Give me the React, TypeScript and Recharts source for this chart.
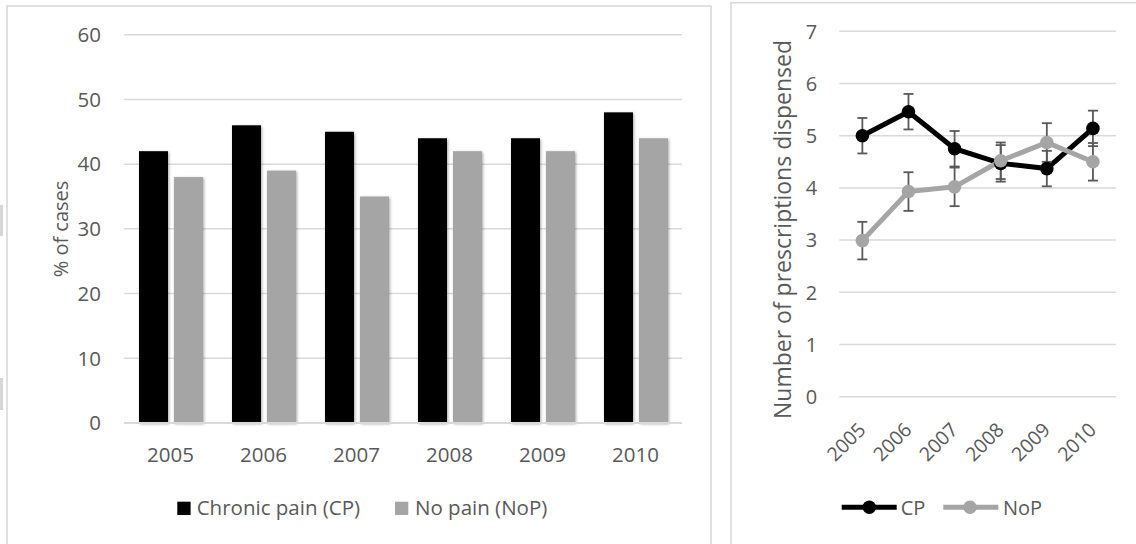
import React from 'react';
import { BarChart, Bar, XAxis, YAxis, CartesianGrid, ComposedChart, Line, ErrorBar } from 'recharts';

const years = ['2005', '2006', '2007', '2008', '2009', '2010'];
const cpPct = [42, 46, 45, 44, 44, 48];
const nopPct = [38, 39, 35, 42, 42, 44];
const pctTicks = [0, 10, 20, 30, 40, 50, 60];

const cpRx = [5.0, 5.46, 4.75, 4.47, 4.37, 5.14];
const cpErr = [0.34, 0.34, 0.34, 0.35, 0.34, 0.34];
const nopRx = [2.99, 3.93, 4.02, 4.52, 4.87, 4.5];
const nopErr = [0.36, 0.37, 0.37, 0.35, 0.37, 0.36];
const rxTicks = [0, 1, 2, 3, 4, 5, 6, 7];

const barNames = ['Chronic pain (CP)', 'No pain (NoP)'];
const lineNames = ['CP', 'NoP'];
const barTitle = '% of cases';
const lineTitle = 'Number of prescriptions dispensed';

const barData = years.map((y, i) => ({ year: y, cp: cpPct[i], nop: nopPct[i] }));
const lineData = years.map((y, i) => ({
  year: y,
  cp: cpRx[i],
  cpErr: cpErr[i],
  nop: nopRx[i],
  nopErr: nopErr[i],
}));

const FONT = '"Open Sans", sans-serif';
const TXT = '#595959';
const GRID = '#d9d9d9';
const BLACK = '#000000';
const GREY = '#a5a5a5';

const BarShape = (p: any) => (
  <rect x={p.x} y={p.y} width={p.width} height={p.height} fill={p.fill} filter="url(#barShadow)" />
);

export default function App() {
  return (
    <div style={{ position: 'absolute', left: 0, top: 0, width: 1136, height: 544, background: '#fff', overflow: 'hidden' }}>
      <div style={{ position: 'absolute', left: 0, top: 0 }}>
        <BarChart
          width={720}
          height={544}
          data={barData}
          margin={{ top: 34.7, right: 38, bottom: 61, left: 24 }}
          barSize={29}
          barGap={6}
        >
          <defs>
            <filter id="barShadow" x="-30%" y="-10%" width="160%" height="120%">
              <feGaussianBlur in="SourceAlpha" stdDeviation="1.6" />
              <feOffset dx="0.5" dy="0.5" result="blur" />
              <feComponentTransfer>
                <feFuncA type="linear" slope="0.35" />
              </feComponentTransfer>
              <feMerge>
                <feMergeNode />
                <feMergeNode in="SourceGraphic" />
              </feMerge>
            </filter>
          </defs>
          <CartesianGrid horizontal vertical={false} stroke={GRID} strokeWidth={1.5} />
          <YAxis
            width={100}
            domain={[0, 60]}
            ticks={pctTicks}
            axisLine={false}
            tickLine={false}
            interval={0}
            tick={(p: any) => (
              <text x={101} y={p.y + 7.3} textAnchor="end" fontSize={20.5} fill={TXT} fontFamily={FONT}>
                {p.payload.value}
              </text>
            )}
          />
          <XAxis
            dataKey="year"
            height={60}
            axisLine={{ stroke: GRID, strokeWidth: 1.8 }}
            tickLine={false}
            interval={0}
            tick={(p: any) => (
              <text x={p.x} y={462} textAnchor="middle" fontSize={20.5} fill={TXT} fontFamily={FONT}>
                {p.payload.value}
              </text>
            )}
          />
          <Bar dataKey="cp" name={barNames[0]} fill={BLACK} shape={BarShape} isAnimationActive={false} />
          <Bar dataKey="nop" name={barNames[1]} fill={GREY} shape={BarShape} isAnimationActive={false} />
        </BarChart>
      </div>

      <div style={{ position: 'absolute', left: 731, top: 0 }}>
        <ComposedChart
          width={405}
          height={544}
          data={lineData}
          margin={{ top: 31.3, right: 20, bottom: 87.3, left: 8.3 }}
        >
          <CartesianGrid horizontal vertical={false} stroke={GRID} strokeWidth={1.5} />
          <YAxis
            width={100}
            domain={[0, 7]}
            ticks={rxTicks}
            axisLine={false}
            tickLine={false}
            interval={0}
            tick={(p: any) => (
              <text x={86.3} y={p.y + 7.2} textAnchor="end" fontSize={20} fill={TXT} fontFamily={FONT}>
                {p.payload.value}
              </text>
            )}
          />
          <XAxis
            dataKey="year"
            scale="band"
            height={60}
            axisLine={false}
            tickLine={false}
            interval={0}
            tick={(p: any) => (
              <text
                x={p.x + 4.5}
                y={431}
                textAnchor="end"
                fontSize={19.5}
                fill={TXT}
                fontFamily={FONT}
                transform={`rotate(-45, ${p.x + 4.5}, 431)`}
              >
                {p.payload.value}
              </text>
            )}
          />
          <Line
            dataKey="cp"
            name={lineNames[0]}
            stroke={BLACK}
            strokeWidth={5}
            dot={{ r: 6.8, fill: BLACK, stroke: BLACK, strokeWidth: 0 }}
            activeDot={false}
            isAnimationActive={false}
          >
            <ErrorBar dataKey="cpErr" direction="y" width={5} stroke={TXT} strokeWidth={1.8} />
          </Line>
          <Line
            dataKey="nop"
            name={lineNames[1]}
            stroke={GREY}
            strokeWidth={5}
            dot={{ r: 6.8, fill: GREY, stroke: GREY, strokeWidth: 0 }}
            activeDot={false}
            isAnimationActive={false}
          >
            <ErrorBar dataKey="nopErr" direction="y" width={5} stroke={TXT} strokeWidth={1.8} />
          </Line>
        </ComposedChart>
      </div>

      <svg
        width={1136}
        height={544}
        style={{ position: 'absolute', left: 0, top: 0, pointerEvents: 'none' }}
      >
        <rect x={0} y={205} width={3} height={31} fill="#d6d6d6" />
        <rect x={0} y={378} width={3} height={32} fill="#d6d6d6" />
        <rect x={7} y={6} width={704} height={620} fill="none" stroke={GRID} strokeWidth={1.6} />
        <rect x={731} y={2.7} width={500} height={620} fill="none" stroke={GRID} strokeWidth={1.6} />

        <text
          transform="translate(67.5, 229) rotate(-90)"
          textAnchor="middle"
          fontSize={20}
          fill={TXT}
          fontFamily={FONT}
        >
          {barTitle}
        </text>
        <text
          transform="translate(791, 229.5) rotate(-90)"
          textAnchor="middle"
          fontSize={23}
          fill={TXT}
          fontFamily={FONT}
        >
          {lineTitle}
        </text>

        <rect x={177.3} y={501.7} width={13.3} height={13.3} fill={BLACK} />
        <text x={196.7} y={515} fontSize={20.5} fill={TXT} fontFamily={FONT}>
          {barNames[0]}
        </text>
        <rect x={395} y={501.7} width={13.3} height={13.3} fill={GREY} />
        <text x={415} y={515} fontSize={20.5} fill={TXT} fontFamily={FONT}>
          {barNames[1]}
        </text>

        <line x1={841.7} y1={507.3} x2={896.7} y2={507.3} stroke={BLACK} strokeWidth={5} />
        <circle cx={869.3} cy={507.3} r={6.8} fill={BLACK} />
        <text x={900.7} y={515} fontSize={20} fill={TXT} fontFamily={FONT}>
          {lineNames[0]}
        </text>
        <line x1={943.3} y1={507.3} x2={998.3} y2={507.3} stroke={GREY} strokeWidth={5} />
        <circle cx={970} cy={507.3} r={6.8} fill={GREY} />
        <text x={1003} y={515} fontSize={20} fill={TXT} fontFamily={FONT}>
          {lineNames[1]}
        </text>
      </svg>
    </div>
  );
}
